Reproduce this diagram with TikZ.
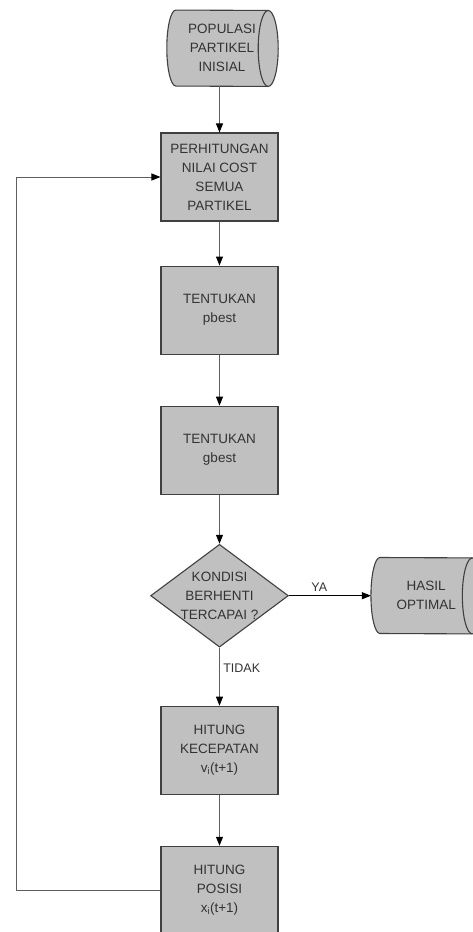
\documentclass[tikz,border=0pt]{standalone}
\usepackage{fontspec}
\setmainfont{Liberation Sans}
\usetikzlibrary{positioning, shapes.geometric, backgrounds, arrows.meta}
\definecolor{boxfill}{HTML}{C0C0C0}
\definecolor{boxline}{HTML}{404040}
\definecolor{txt}{HTML}{333333}
\definecolor{conn}{HTML}{5E5E5E}

\begin{document}
\begin{tikzpicture}[
        every node/.style={font=\fontsize{13.5}{19}\selectfont, text=txt},
        % kotak proses abu-abu
        box/.style={draw=boxline, fill=boxfill, line width=1.1pt, minimum width=117pt, minimum height=88pt, align=center},
        % belah ketupat untuk keputusan
        decision/.style={diamond, draw=boxline, fill=boxfill, line width=1.1pt, aspect=1.34, inner sep=-0.8pt, align=center},
        % terminal (silinder rebah), bentuknya digambar di latar belakang
        terminal/.style={minimum width=92pt, minimum height=76pt, align=center, inner sep=0pt},
        termshape/.style={draw=boxline, fill=boxfill, line width=1.1pt},
        arrow/.style={-{Triangle[length=9pt, width=7pt, color=black]}, draw=conn, line width=1pt},
        branchtext/.style={font=\fontsize{12.5}{14}\selectfont}
    ]
    \useasboundingbox (0,0) rectangle (473pt,-932pt);

    % --- Proses utama ---
    \node[box] (hitungcost) at (219.5pt,-177pt) {PERHITUNGAN\\NILAI COST\\SEMUA\\PARTIKEL};
    \node[terminal, above=46pt of hitungcost, xshift=2.5pt] (popinit) {POPULASI\\PARTIKEL\\INISIAL};
    \node[box, below=44pt of hitungcost] (pbest) {TENTUKAN\\pbest};
    \node[box, below=51pt of pbest] (gbest) {TENTUKAN\\gbest};

    % --- Keputusan ---
    \node[decision, below=49pt of gbest] (cek) {KONDISI\\BERHENTI\\TERCAPAI ?};
    \node[terminal, right=91pt of cek] (hasil) {HASIL\\OPTIMAL};

    % --- Update kecepatan & posisi ---
    \node[box, below=58pt of cek] (kecepatan) {HITUNG\\KECEPATAN\\v\textsubscript{i}(t+1)};
    \node[box, below=51pt of kecepatan] (posisi) {HITUNG\\POSISI\\x\textsubscript{i}(t+1)};

    % bentuk terminal
    \begin{scope}[on background layer]
        \foreach \term in {popinit, hasil} {
            \draw[termshape] (\term.north west) arc[start angle=90, end angle=270, x radius=9pt, y radius=38pt]
                -- (\term.south east) arc[start angle=-90, end angle=90, x radius=10pt, y radius=38pt] -- cycle;
            \draw[termshape, fill=none] (\term.south east) arc[start angle=270, end angle=90, x radius=10pt, y radius=38pt];
        }
    \end{scope}

    % --- Connections ---
    \draw[arrow] (hitungcost.north |- popinit.south) -- (hitungcost.north);
    \draw[arrow] (hitungcost) -- (pbest);
    \draw[arrow] (pbest) -- (gbest);
    \draw[arrow] (gbest) -- (cek);
    \draw[arrow, draw=black] (cek.east) -- node[branchtext, above, pos=0.37] {YA} ([xshift=-9pt]hasil.west);
    \draw[arrow] (cek) -- node[branchtext, right, pos=0.35] {TIDAK} (kecepatan);
    \draw[arrow] (kecepatan) -- (posisi);

    % loop kembali ke perhitungan cost
    \draw[arrow] (posisi.west) -- ++(-144pt,0) |- (hitungcost.west);

\end{tikzpicture}
\end{document}
